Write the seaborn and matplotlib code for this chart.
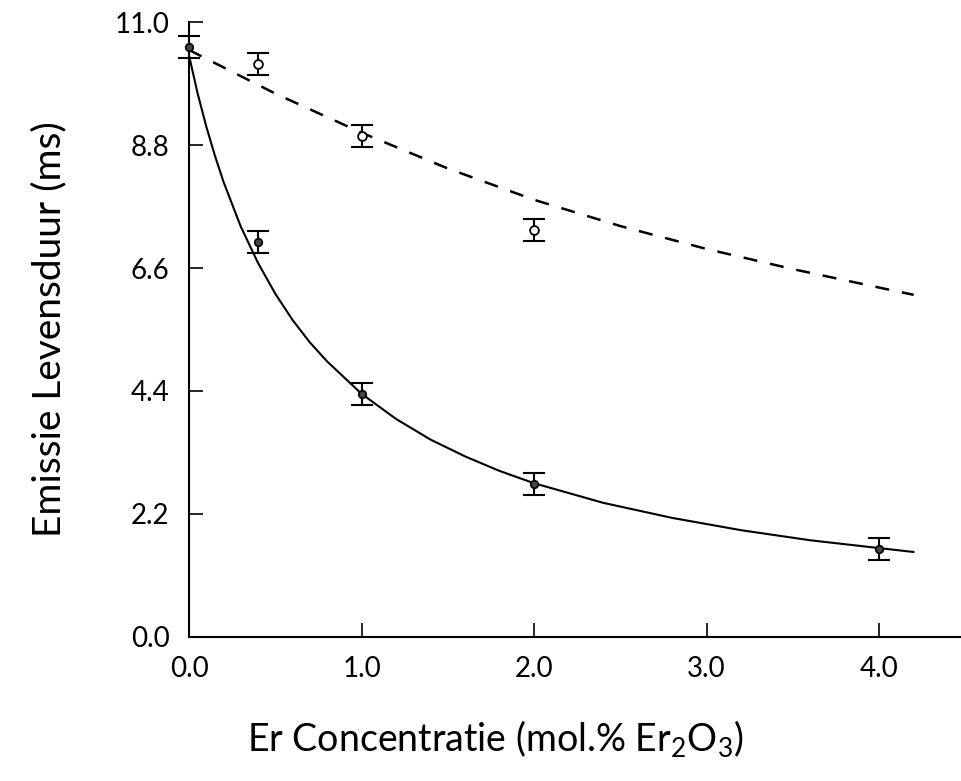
import numpy as np
import pandas as pd
import matplotlib
matplotlib.use("Agg")
import matplotlib.pyplot as plt
import seaborn as sns

# measured points
conc_solid = [0.0, 0.4, 1.0, 2.0, 4.0]
tau_solid = [10.55, 7.07, 4.35, 2.74, 1.57]
err_solid = [0.2, 0.2, 0.2, 0.2, 0.2]

conc_open = [0.4, 1.0, 2.0]
tau_open = [10.25, 8.96, 7.28]
err_open = [0.2, 0.2, 0.2]

# fitted curves
fit_solid_x = [0.0, 0.05, 0.1, 0.15, 0.2, 0.3, 0.4, 0.5, 0.6, 0.7, 0.8, 1.0,
               1.2, 1.4, 1.6, 1.8, 2.0, 2.4, 2.8, 3.2, 3.6, 4.0, 4.2]
fit_solid_y = [10.4, 9.72, 9.13, 8.61, 8.14, 7.34, 6.69, 6.14, 5.67, 5.27, 4.93, 4.35,
               3.90, 3.53, 3.23, 2.97, 2.75, 2.40, 2.13, 1.91, 1.73, 1.59, 1.52]

fit_dash_x = [0.0, 0.5, 1.0, 1.5, 2.0, 2.5, 3.0, 3.5, 4.0, 4.2]
fit_dash_y = [10.5, 9.72, 9.02, 8.38, 7.82, 7.35, 6.94, 6.58, 6.25, 6.12]

xticks = [0.0, 1.0, 2.0, 3.0, 4.0]
yticks = [0.0, 2.2, 4.4, 6.6, 8.8, 11.0]

sns.set_theme(style="white")
plt.rcParams["font.family"] = ["Lato", "DejaVu Sans"]
plt.rcParams["mathtext.fontset"] = "custom"
plt.rcParams["mathtext.rm"] = "Lato"
plt.rcParams["text.color"] = "black"
plt.rcParams["axes.labelcolor"] = "black"

fig = plt.figure(figsize=(9.62, 7.81), dpi=100)
ax = fig.add_axes([0.1965, 0.1844, 0.8035, 0.7874])

sns.lineplot(x=fit_solid_x, y=fit_solid_y, ax=ax, color="black", lw=1.5)
sns.lineplot(x=fit_dash_x, y=fit_dash_y, ax=ax, color="black", lw=1.8)
ax.lines[-1].set_dashes([5.6, 5.2])

ax.errorbar(conc_solid, tau_solid, yerr=err_solid, fmt="none", ecolor="black",
            elinewidth=1.5, capsize=8, capthick=1.5, clip_on=False)
ax.errorbar(conc_open, tau_open, yerr=err_open, fmt="none", ecolor="black",
            elinewidth=1.5, capsize=8, capthick=1.5, clip_on=False)
sns.scatterplot(x=conc_solid, y=tau_solid, ax=ax, color="#444444", edgecolor="black",
                s=30, linewidth=1.2, zorder=5, clip_on=False)
sns.scatterplot(x=conc_open, y=tau_open, ax=ax, color="white", edgecolor="black",
                s=40, linewidth=1.3, zorder=5, clip_on=False)

ax.set_xlim(0, 4.48)
ax.set_ylim(0, 11.0)
ax.set_xticks(xticks)
ax.set_xticklabels([f"{v:.1f}" for v in xticks])
ax.set_yticks(yticks)
ax.set_yticklabels([f"{v:.1f}" for v in yticks])
ax.tick_params(axis="both", direction="in", length=10, width=1.2, colors="black",
               labelcolor="black", labelsize=20, pad=14, bottom=True, left=True)

sns.despine(ax=ax)
for s in ["left", "bottom"]:
    ax.spines[s].set_color("black")
    ax.spines[s].set_linewidth(1.5)

ax.set_xlabel("Er Concentratie (mol.% Er$_2$O$_3$)", fontsize=27, color="black",
              va="center")
ax.set_ylabel("Emissie Levensduur (ms)", fontsize=28, color="black", labelpad=34)
ax.xaxis.set_label_coords(0.396, -0.167)

fig.savefig("out.png", dpi=100)
